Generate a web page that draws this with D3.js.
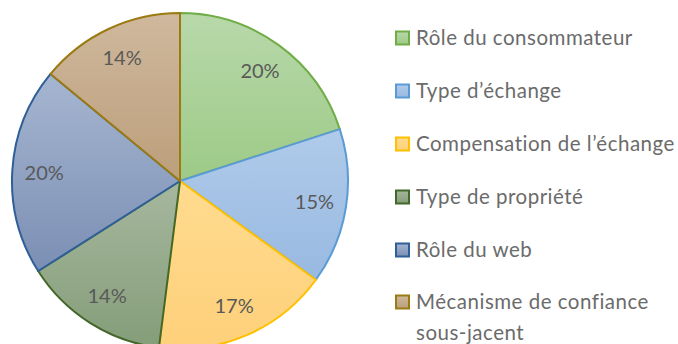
<!DOCTYPE html>
<html>
<head>
<meta charset="utf-8">
<script src="https://cdn.jsdelivr.net/npm/d3@7"></script>
<style>
  html, body { margin: 0; padding: 0; background: #ffffff; }
  svg { display: block; }
  text { font-family: Lato, "Open Sans", sans-serif; }
</style>
</head>
<body>
<svg id="chart" width="678" height="344"></svg>
<script>
// Categories and their shares (percent)
const categories = [
  "Rôle du consommateur",
  "Type d’échange",
  "Compensation de l’échange",
  "Type de propriété",
  "Rôle du web",
  "Mécanisme de confiance sous-jacent"
];
const values = [20, 15, 17, 14, 20, 14];
// Legend lines (long names wrap onto two lines)
const legendLines = [
  ["Rôle du consommateur"],
  ["Type d’échange"],
  ["Compensation de l’échange"],
  ["Type de propriété"],
  ["Rôle du web"],
  ["Mécanisme de confiance", "sous-jacent"]
];
// Fill gradient (top, bottom) and outline per slice
const fillTop    = ["#b8d8aa", "#b0cbea", "#ffdb8f", "#a6b79e", "#a6b6d1", "#cfb89d"];
const fillBottom = ["#9dca87", "#98b9e1", "#fed07a", "#859d79", "#7b8fb4", "#bc9f7b"];
const strokes    = ["#70ad47", "#5b9bd5", "#ffc000", "#43682b", "#2e5f96", "#9c7a12"];

const svg = d3.select("#chart");
const cx = 180, cy = 181, radius = 168;

const defs = svg.append("defs");
categories.forEach((c, i) => {
  const g = defs.append("linearGradient")
    .attr("id", "grad" + i)
    .attr("x1", 0).attr("y1", 0).attr("x2", 0).attr("y2", 1);
  g.append("stop").attr("offset", "0%").attr("stop-color", fillTop[i]);
  g.append("stop").attr("offset", "100%").attr("stop-color", fillBottom[i]);
});

const pie = d3.pie().sort(null).value(d => d.value);
const data = pie(categories.map((c, i) => ({ name: c, value: values[i], i })));

const arc = d3.arc().innerRadius(0).outerRadius(radius);
const labelArc = d3.arc().innerRadius(radius * 0.81).outerRadius(radius * 0.81);

const g = svg.append("g").attr("transform", `translate(${cx},${cy})`);

g.selectAll("path.slice")
  .data(data)
  .join("path")
  .attr("class", "slice")
  .attr("d", arc)
  .attr("fill", d => `url(#grad${d.data.i})`)
  .attr("stroke", d => strokes[d.data.i])
  .attr("stroke-width", 2)
  .attr("stroke-linejoin", "round");

g.selectAll("text.pct")
  .data(data)
  .join("text")
  .attr("class", "pct")
  .attr("transform", d => `translate(${labelArc.centroid(d)})`)
  .attr("text-anchor", "middle")
  .attr("dy", "0.36em")
  .attr("font-size", 20)
  .attr("fill", "#595959")
  .text(d => d.data.value + "%");

// Legend
const legend = svg.append("g").attr("transform", "translate(395,0)");
const rowY = [38, 91, 144, 197, 250, 302];
const item = legend.selectAll("g.item")
  .data(categories)
  .join("g")
  .attr("class", "item")
  .attr("transform", (d, i) => `translate(0,${rowY[i]})`);

item.append("rect")
  .attr("x", 1).attr("y", -6.5)
  .attr("width", 13).attr("height", 13)
  .attr("fill", (d, i) => `url(#grad${i})`)
  .attr("stroke", (d, i) => strokes[i])
  .attr("stroke-width", 2);

item.each(function (d, i) {
  const t = d3.select(this).append("text")
    .attr("x", 21)
    .attr("font-size", 20.5)
    .attr("letter-spacing", 0.5)
    .attr("fill", "#6b6b6b");
  legendLines[i].forEach((line, k) => {
    t.append("tspan")
      .attr("x", 21)
      .attr("y", k * 31)
      .attr("dy", "0.35em")
      .text(line);
  });
});
</script>
</body>
</html>
